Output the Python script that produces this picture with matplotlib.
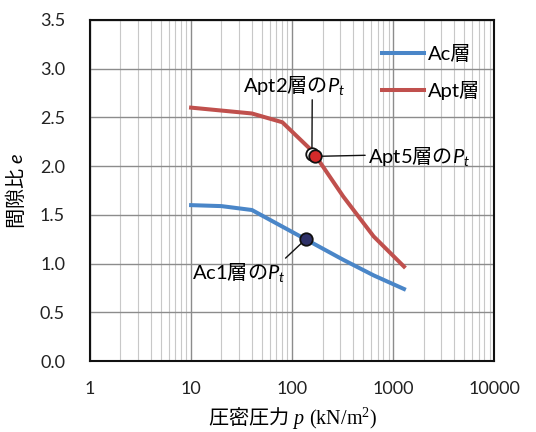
import matplotlib
matplotlib.use("Agg")
import matplotlib.pyplot as plt
from matplotlib.ticker import LogLocator, FixedLocator, NullFormatter

plt.rcParams['font.family'] = ['Lato', 'Noto Sans CJK JP', 'DejaVu Sans']
# mathtext: rm carries the CJK glyphs, it for P_t / e, cal + sf for the serif unit part
plt.rcParams['mathtext.fontset'] = 'custom'
plt.rcParams['mathtext.rm'] = 'Noto Sans CJK JP'
plt.rcParams['mathtext.it'] = 'Lato:italic'
plt.rcParams['mathtext.cal'] = 'Liberation Serif:italic'
plt.rcParams['mathtext.sf'] = 'Liberation Serif'

# consolidation curves
pressure = [10, 20, 40, 80, 160, 320, 640, 1280]
e_ac = [1.60, 1.59, 1.55, 1.38, 1.21, 1.04, 0.88, 0.74]
e_apt = [2.60, 2.57, 2.54, 2.45, 2.15, 1.69, 1.28, 0.97]

# consolidation yield points
pt_apt2 = (157, 2.125)
pt_apt5 = (169, 2.10)
pt_ac1 = (138, 1.256)

y_ticks = [0.0, 0.5, 1.0, 1.5, 2.0, 2.5, 3.0, 3.5]
x_ticks = [1, 10, 100, 1000, 10000]
x_labels = ['1', '10', '100', '1000', '10000']

fig = plt.figure(figsize=(5.36, 4.32), dpi=100)
ax = fig.add_axes([0.168, 0.164, 0.754, 0.79])

ax.plot(pressure, e_ac, color='#4a86c8', lw=2.9, label='Ac層', zorder=3)
ax.plot(pressure, e_apt, color='#c0504d', lw=2.9, label='Apt層', zorder=3)

ax.set_xscale('log')
ax.set_xlim(1, 10000)
ax.set_ylim(0, 3.5)
ax.xaxis.set_major_locator(FixedLocator(x_ticks))
ax.set_xticklabels(x_labels)
ax.xaxis.set_minor_locator(LogLocator(base=10, subs=range(2, 10)))
ax.xaxis.set_minor_formatter(NullFormatter())
ax.set_yticks(y_ticks)
ax.set_yticklabels([f'{v:.1f}' for v in y_ticks])

ax.grid(True, which='major', color='#8c8c8c', lw=1.0, zorder=0)
ax.grid(True, which='minor', axis='x', color='#c8c8c8', lw=0.8, zorder=0)
ax.tick_params(which='both', length=0)
ax.tick_params(axis='y', pad=18, labelsize=13, colors='#222222')
ax.tick_params(axis='x', pad=14, labelsize=13, colors='#222222')
for s in ax.spines.values():
    s.set_linewidth(1.5)
    s.set_color('#111111')

ax.set_xlabel(r'$\mathrm{圧密圧力}\ \mathcal{p}\ \mathsf{(kN/m^2)}$', fontsize=14.5, labelpad=6)
ax.set_ylabel(r'$\mathrm{間隙比}\ e$', fontsize=14.5, labelpad=9)

leg = ax.legend(loc='upper left', bbox_to_anchor=(0.723, 0.925), frameon=False,
                fontsize=14.5, handlelength=2.05, handletextpad=0.2,
                labelspacing=0.85, borderaxespad=0, borderpad=0)

mk = dict(markersize=9, markeredgecolor='#111111', markeredgewidth=1.3, zorder=5)
ax.plot(*pt_apt2, 'o', markerfacecolor='white', **mk)
ax.plot(*pt_apt5, 'o', markerfacecolor='#d42a2a', **mk)
ax.plot(*pt_ac1, 'o', markerfacecolor='#2e3168', **mk)

arrow = dict(arrowstyle='-', color='#111111', lw=1.0, shrinkA=0, shrinkB=4)
ax.annotate(r'Apt2$\mathrm{層の}P_t$', xy=pt_apt2, xytext=(-13, 41), textcoords='offset points',
            ha='center', va='bottom', fontsize=14.5,
            arrowprops=dict(relpos=(0.68, 0.0), **arrow))
ax.annotate(r'Apt5$\mathrm{層の}P_t$', xy=pt_apt5, xytext=(38, 0), textcoords='offset points',
            ha='left', va='center', fontsize=14.5,
            arrowprops=dict(relpos=(0.0, 0.55), **arrow))
ax.annotate(r'Ac1$\mathrm{層の}P_t$', xy=pt_ac1, xytext=(-49, -16), textcoords='offset points',
            ha='center', va='top', fontsize=14.5,
            arrowprops=dict(relpos=(0.95, 0.9), **arrow))

fig.savefig('out.png', dpi=100)
